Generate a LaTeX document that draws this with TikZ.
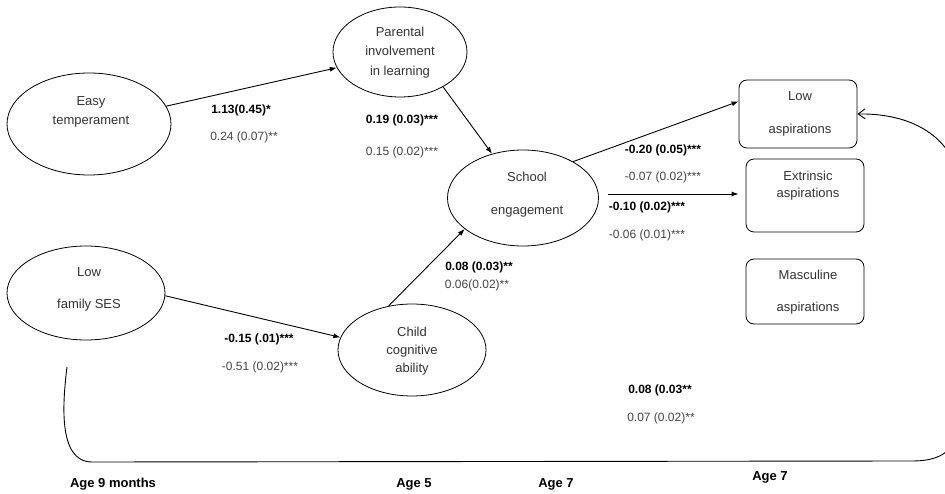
\documentclass[tikz,border=0pt]{standalone}
\usepackage{fontspec}
\setmainfont{Liberation Sans}
\usetikzlibrary{shapes.geometric,arrows.meta,calc}
\definecolor{nodetxt}{HTML}{333333}
\definecolor{labtxt}{HTML}{444444}
\tikzset{
  ell/.style={draw, ellipse, line width=0.8pt, inner sep=0pt},
  abox/.style={draw, rounded corners=8pt, line width=0.8pt, inner sep=0pt, minimum width=118pt},
  ntxt/.style={inner sep=0pt, align=center, text=nodetxt, font=\fontsize{13}{#1}\selectfont},
  ntxt/.default=19,
  blab/.style={inner sep=0pt, text=black, font=\fontsize{12}{14}\selectfont\bfseries},
  nlab/.style={inner sep=0pt, text=labtxt, font=\fontsize{12}{14}\selectfont},
  agelab/.style={inner sep=0pt, text=black, font=\fontsize{13}{15}\selectfont\bfseries},
  conn/.style={line width=0.9pt, -{Latex[length=7pt,width=5pt]}},
  back/.style={line width=0.9pt, -{Straight Barb[length=7pt,width=10pt]}}
}
\begin{document}
\begin{tikzpicture}[x=1pt,y=-1pt]
\clip (0,0) rectangle (945,494);
\fill[white] (0,0) rectangle (945,494);
% ellipses
\node[ell, minimum width=164pt, minimum height=102pt] (easy) at (89,124) {};
\node[ell, minimum width=134pt, minimum height=90pt] (par) at (400,52) {};
\node[ell, minimum width=151pt, minimum height=96pt] (sch) at (523,198) {};
\node[ell, minimum width=158pt, minimum height=94pt] (ses) at (86,293) {};
\node[ell, minimum width=148pt, minimum height=92pt] (child) at (412,350) {};
% boxes
\node[abox, minimum height=68pt] (lowasp) at (798,114) {};
\node[abox, minimum height=73pt] (extr) at (805,195.5) {};
\node[abox, minimum height=65pt] (masc) at (805,291.5) {};
% node texts
\node[ntxt=19] (teasy) at (91,111.5) {Easy\\temperament};
\node[ntxt=19.5] (tpar) at (400,52.5) {Parental\\involvement\\in learning};
\node[ntxt=33] (tsch) at (527,194.5) {School\\engagement};
\node[ntxt=32] (tses) at (89,289) {Low\\family SES};
\node[ntxt=18] (tchild) at (412,351) {Child\\cognitive\\ability};
\node[ntxt=33] (tlow) at (800,113.5) {Low\\aspirations};
\node[ntxt=17.5] (text) at (808,185.5) {Extrinsic\\aspirations};
\node[ntxt=32] (tmasc) at (808,292) {Masculine\\aspirations};
% connectors
\draw[conn] (easy.13) -- (par.194);
\draw[conn] (par.321) -- (sch.125);
\draw[conn] (child.118) -- (sch.208);
\draw[conn] (ses.358) -- (child.170.5);
\draw[conn] (sch.36) -- (lowasp.168.5);
\coordinate (sx) at ($(sch.east |- extr.west)+(0,-1.5)$);
\coordinate (ex) at (extr.west |- sx);
\draw[conn, shorten <=9pt, shorten >=7pt] (sx) -- (ex);
\coordinate (bstart) at (67,367);
\draw[back] (bstart) .. controls (63,400) and (57,462) .. (92,462)
  -- (912,461) .. controls (935,461) and (955,455) .. (960,425)
  -- (960,190) .. controls (958,140) and (915,113) .. (lowasp.east);
% path labels
\node[blab] (l1a) at (241,110) {1.13(0.45)*};
\node[nlab] (l1b) at (244,137) {0.24 (0.07)**};
\node[blab] (l2a) at (402,120) {0.19 (0.03)***};
\node[nlab] (l2b) at (402,152) {0.15 (0.02)***};
\node[blab] (l3a) at (663,150) {-0.20 (0.05)***};
\node[nlab] (l3b) at (663,177) {-0.07 (0.02)***};
\node[blab] (l4a) at (647,207) {-0.10 (0.02)***};
\node[nlab] (l4b) at (647,235) {-0.06 (0.01)***};
\node[blab] (l5a) at (479,267) {0.08 (0.03)**};
\node[nlab] (l5b) at (477,285) {0.06(0.02)**};
\node[blab] (l6a) at (259,339) {-0.15 (.01)***};
\node[nlab] (l6b) at (260,367) {-0.51 (0.02)***};
\node[blab] (l7a) at (660,390) {0.08 (0.03**};
\node[nlab] (l7b) at (661,418) {0.07 (0.02)**};
% ages
\node[agelab] (age9) at (113,484) {Age 9 months};
\node[agelab] (age5) at (414,484) {Age 5};
\node[agelab] (age7a) at (556,484) {Age 7};
\node[agelab] (age7b) at (770,477) {Age 7};
\end{tikzpicture}
\end{document}
